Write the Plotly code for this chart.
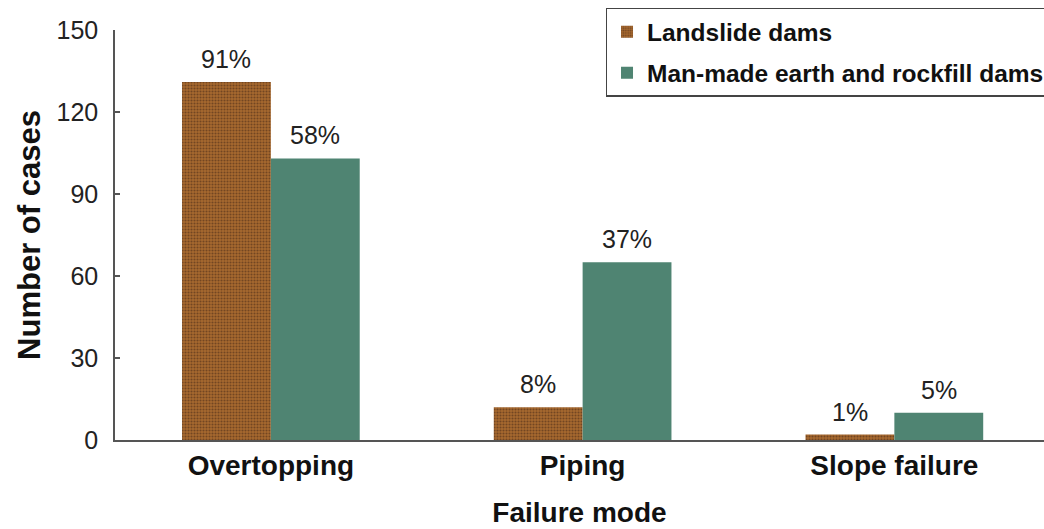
import plotly.graph_objects as go

# Failure modes and counts for each dam type
categories = ["Overtopping", "Piping", "Slope failure"]
landslide_cases = [131, 12, 2]
landslide_labels = ["91%", "8%", "1%"]
manmade_cases = [103, 65, 10]
manmade_labels = ["58%", "37%", "5%"]
y_ticks = [0, 30, 60, 90, 120, 150]

FONT = "Liberation Sans, Arial, Helvetica, sans-serif"
BROWN_BG = "#a8692e"
BROWN_FG = "#3c2416"
GREEN = "#4f8472"
AXIS = "#555555"

bar_w = 0.285
pos = list(range(len(categories)))
x_land = [p - bar_w / 2 for p in pos]
x_man = [p + bar_w / 2 for p in pos]

fig = go.Figure()
fig.add_trace(go.Bar(
    x=x_land, y=landslide_cases, width=bar_w, name="Landslide dams",
    legendgroup="a",
    marker=dict(color=BROWN_BG, line=dict(width=0),
                pattern=dict(shape=".", fgcolor=BROWN_FG, bgcolor=BROWN_BG,
                             size=3, solidity=0.4, fillmode="overlay")),
))
fig.add_trace(go.Bar(
    x=x_man, y=manmade_cases, width=bar_w, name="Man-made earth and rockfill dams",
    legendgroup="b",
    marker=dict(color=GREEN, line=dict(width=0)),
))

# Percentage labels above each bar
for xs, ys, labels in ((x_land, landslide_cases, landslide_labels),
                       (x_man, manmade_cases, manmade_labels)):
    for xv, yv, t in zip(xs, ys, labels):
        fig.add_annotation(x=xv, y=yv, text=t, showarrow=False,
                           yanchor="bottom", yshift=7,
                           font=dict(family=FONT, size=25, color="#222222"))

fig.update_layout(
    width=1044, height=529,
    margin=dict(l=115, r=0, t=30, b=89, autoexpand=False),
    paper_bgcolor="white", plot_bgcolor="white",
    font=dict(family=FONT, color="#111111"),
    showlegend=True,
    legend=dict(
        x=0.528, y=1.054, xanchor="left", yanchor="top",
        bordercolor="#444444", borderwidth=1.5, bgcolor="white",
        font=dict(family=FONT, size=24.5, color="#111111", weight="bold"),
        traceorder="grouped", tracegroupgap=6,
    ),
    xaxis=dict(
        range=[-0.5, 2.48], tickvals=pos, ticktext=categories,
        showline=True, linecolor=AXIS, linewidth=1.5, ticks="",
        showgrid=False, zeroline=False,
        tickfont=dict(family=FONT, size=28, color="#111111", weight="bold"),
        title=dict(text="Failure mode", standoff=22,
                   font=dict(family=FONT, size=28, color="#111111", weight="bold")),
    ),
    yaxis=dict(
        range=[0, 150], tickvals=y_ticks,
        showline=True, linecolor=AXIS, linewidth=1.5,
        ticks="inside", ticklen=5, tickcolor=AXIS, tickwidth=1.5,
        showgrid=False, zeroline=False, ticklabelstandoff=10,
        tickfont=dict(family=FONT, size=25, color="#222222"),
        title=dict(text="Number of cases", standoff=7,
                   font=dict(family=FONT, size=31, color="#111111", weight="bold")),
    ),
)

fig.write_html("out.html")
